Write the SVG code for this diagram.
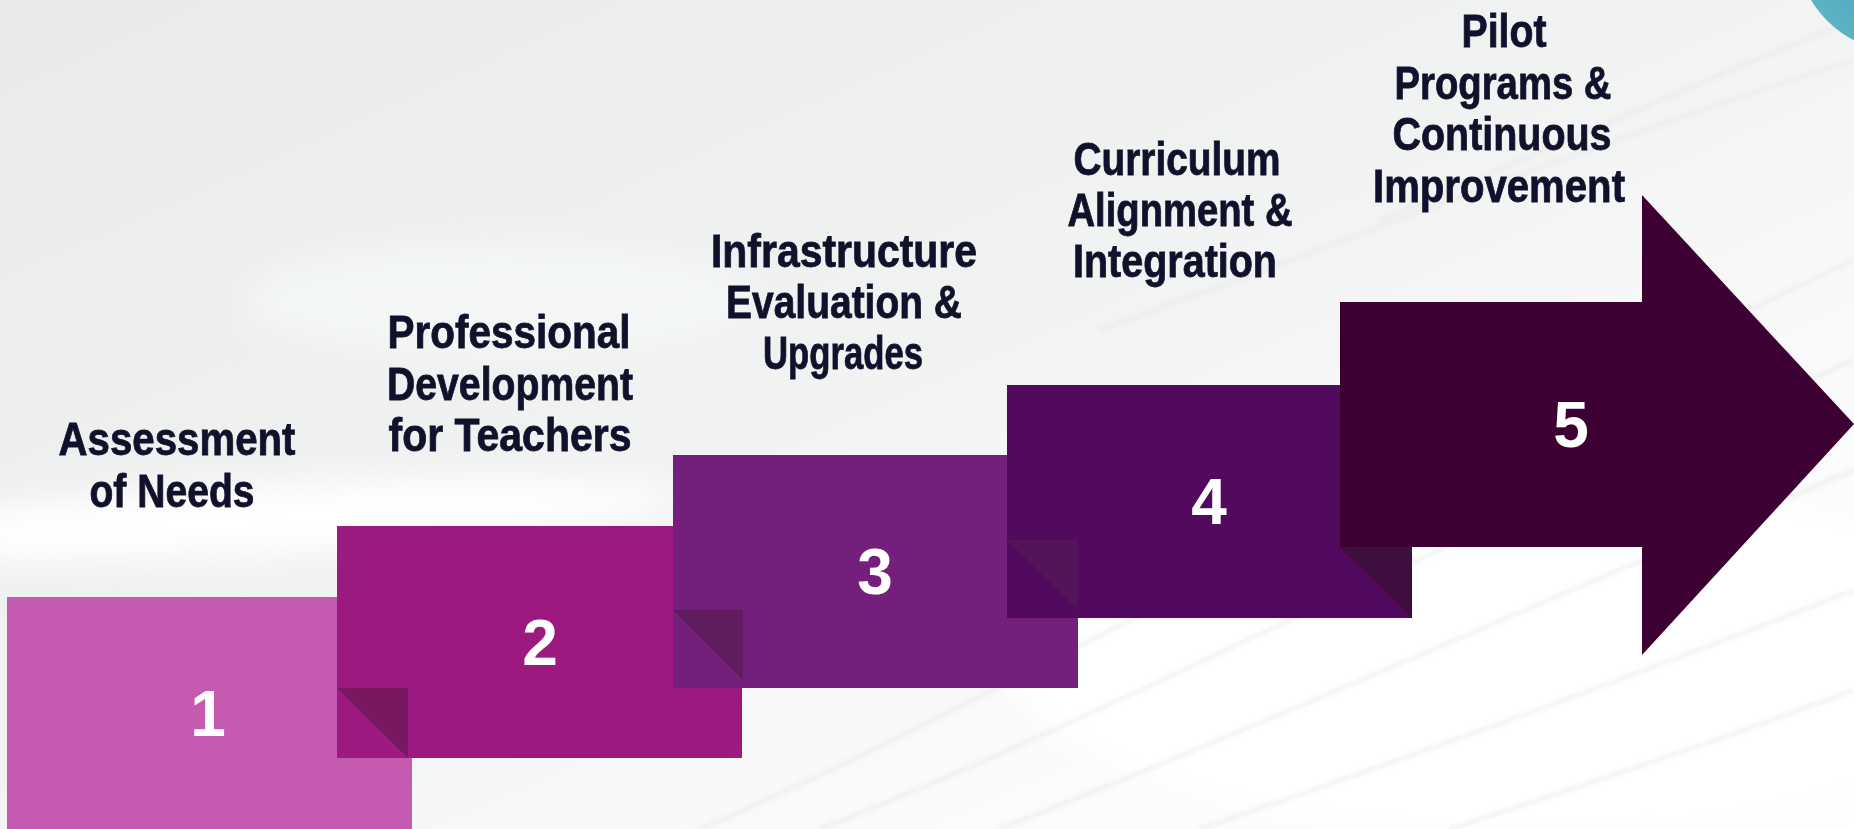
<svg xmlns="http://www.w3.org/2000/svg" width="1854" height="829" viewBox="0 0 1854 829">
  <defs>
    <linearGradient id="bg" x1="0" y1="0" x2="1" y2="1">
      <stop offset="0" stop-color="#E9EAEA"/>
      <stop offset="0.45" stop-color="#F1F2F2"/>
      <stop offset="0.75" stop-color="#FBFBFB"/>
      <stop offset="1" stop-color="#FFFFFF"/>
    </linearGradient>
    <linearGradient id="teal" x1="0" y1="1" x2="1" y2="0">
      <stop offset="0" stop-color="#5FC0C8"/>
      <stop offset="0.6" stop-color="#4F8FB8"/>
      <stop offset="1" stop-color="#4A4E98"/>
    </linearGradient>
    <filter id="blur" x="-50%" y="-50%" width="200%" height="200%">
      <feGaussianBlur stdDeviation="18"/>
    </filter>
    <filter id="blur2" x="-10%" y="-10%" width="120%" height="120%">
      <feGaussianBlur stdDeviation="2"/>
    </filter>
  </defs>
  <style>
    .lbl { font-family: "Liberation Sans", Arial, sans-serif; font-weight: bold; font-size: 46px; fill: #12112B; stroke: #12112B; stroke-width: 0.8px; text-anchor: middle; }
    .num { font-family: "Liberation Sans", Arial, sans-serif; font-weight: bold; font-size: 64px; fill: #FFFFFF; text-anchor: middle; }
    .streak { fill: none; stroke: #E4E5E6; stroke-width: 3; opacity: 0.7; }
  </style>

  <!-- background -->
  <rect x="0" y="0" width="1854" height="829" fill="url(#bg)"/>
  <g filter="url(#blur)">
    <ellipse cx="260" cy="520" rx="420" ry="34" fill="#FFFFFF" transform="rotate(-3 260 520)"/>
    <ellipse cx="500" cy="300" rx="260" ry="60" fill="#F6F7F7" opacity="0.8"/>
    <ellipse cx="1500" cy="650" rx="500" ry="180" fill="#FFFFFF"/>
  </g>
  <g filter="url(#blur2)">
    <path class="streak" d="M700 829 C1000 700 1300 520 1854 260"/>
    <path class="streak" d="M820 829 C1100 720 1400 560 1854 360"/>
    <path class="streak" d="M1000 829 C1250 730 1500 620 1854 470"/>
    <path class="streak" d="M1200 829 C1400 760 1600 690 1854 590"/>
    <path class="streak" d="M1450 829 C1600 780 1720 740 1854 690"/>
    <path class="streak" d="M1380 220 C1550 150 1700 80 1854 20"/>
    <path class="streak" d="M1100 330 C1350 240 1600 140 1854 60"/>
  </g>
  <circle cx="1900" cy="-52" r="103" fill="url(#teal)"/>

  <!-- step 1 -->
  <g id="step1">
    <rect x="7" y="597" width="405" height="240" fill="#C45BB0"/>
    <text class="num" x="208" y="736">1</text>
    <text class="lbl" x="177" y="455" textLength="237" lengthAdjust="spacingAndGlyphs">Assessment</text>
    <text class="lbl" x="172" y="507" textLength="165" lengthAdjust="spacingAndGlyphs">of Needs</text>
  </g>

  <!-- step 2 -->
  <g id="step2">
    <rect x="337" y="526" width="405" height="232" fill="#9C1A7F"/>
    <polygon points="337,688 408,688 408,758" fill="#771860"/>
    <text class="num" x="540" y="665">2</text>
    <text class="lbl" x="509" y="348" textLength="243" lengthAdjust="spacingAndGlyphs">Professional</text>
    <text class="lbl" x="510" y="400" textLength="246" lengthAdjust="spacingAndGlyphs">Development</text>
    <text class="lbl" x="510" y="451" textLength="243" lengthAdjust="spacingAndGlyphs">for Teachers</text>
  </g>

  <!-- step 3 -->
  <g id="step3">
    <rect x="673" y="455" width="405" height="233" fill="#731F7B"/>
    <polygon points="673,610 743,610 743,680" fill="#5F1C5F"/>
    <text class="num" x="875" y="594">3</text>
    <text class="lbl" x="844" y="267" textLength="266" lengthAdjust="spacingAndGlyphs">Infrastructure</text>
    <text class="lbl" x="844" y="318" textLength="236" lengthAdjust="spacingAndGlyphs">Evaluation &amp;</text>
    <text class="lbl" x="843" y="369" textLength="160" lengthAdjust="spacingAndGlyphs">Upgrades</text>
  </g>

  <!-- step 4 -->
  <g id="step4">
    <rect x="1007" y="385" width="405" height="233" fill="#520A5E"/>
    <polygon points="1007,540 1078,540 1078,610" fill="#54145A"/>
    <polygon points="1340,547 1412,547 1412,618" fill="#3F0D3E"/>
    <text class="num" x="1209" y="524">4</text>
    <text class="lbl" x="1177" y="175" textLength="207" lengthAdjust="spacingAndGlyphs">Curriculum</text>
    <text class="lbl" x="1180" y="226" textLength="225" lengthAdjust="spacingAndGlyphs">Alignment &amp;</text>
    <text class="lbl" x="1175" y="277" textLength="204" lengthAdjust="spacingAndGlyphs">Integration</text>
  </g>

  <!-- step 5 -->
  <g id="step5">
    <polygon points="1340,302 1642,302 1642,195 1854,424 1642,655 1642,547 1340,547" fill="#3C0033"/>
    <text class="num" x="1571" y="447">5</text>
    <text class="lbl" x="1504" y="47" textLength="85" lengthAdjust="spacingAndGlyphs">Pilot</text>
    <text class="lbl" x="1503" y="99" textLength="217" lengthAdjust="spacingAndGlyphs">Programs &amp;</text>
    <text class="lbl" x="1502" y="150" textLength="219" lengthAdjust="spacingAndGlyphs">Continuous</text>
    <text class="lbl" x="1499" y="202" textLength="252" lengthAdjust="spacingAndGlyphs">Improvement</text>
  </g>

  <g id="connectors"></g>
</svg>
